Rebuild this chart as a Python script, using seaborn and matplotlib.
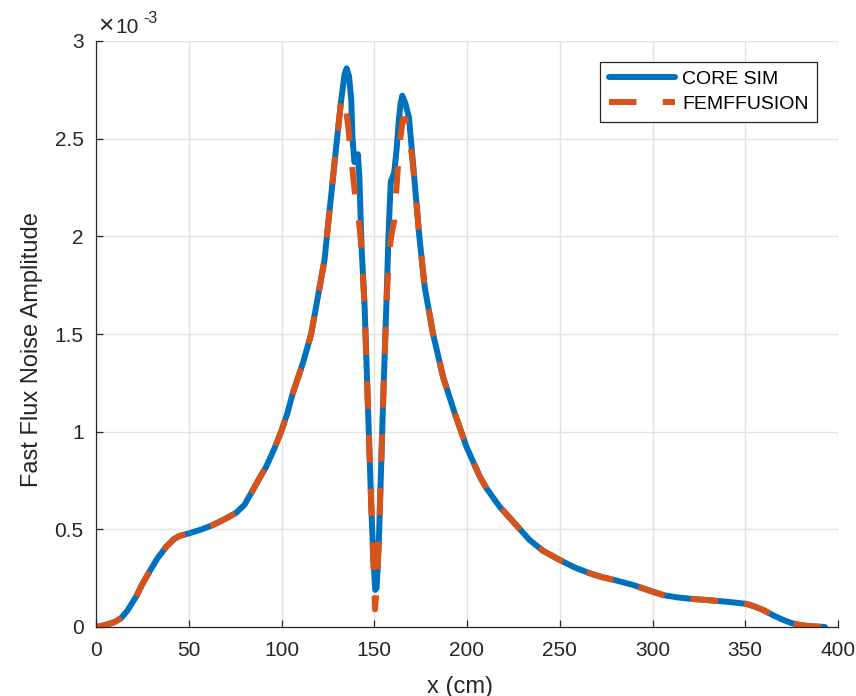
import numpy as np
import pandas as pd
import matplotlib
matplotlib.use("Agg")
import matplotlib.pyplot as plt
import seaborn as sns

# ---------------- data (values in units of 1e-3) ----------------
x_left = [0, 5, 10, 13.5, 17, 21.6, 25, 28.8, 33, 37.8, 42, 45, 50.4, 57, 63, 70,
          75.6, 80, 84.5, 88, 91.7, 96, 99.8, 103, 106.1, 111.5, 116, 119.6,
          123.2, 125, 127, 129.5, 132.2]
y_left = [0.0, 0.01, 0.025, 0.045, 0.085, 0.155, 0.22, 0.283, 0.35, 0.41, 0.45,
          0.466, 0.48, 0.50, 0.522, 0.555, 0.585, 0.625, 0.70, 0.76, 0.82, 0.91,
          1.0, 1.09, 1.197, 1.35, 1.5, 1.69, 1.88, 2.05, 2.23, 2.46, 2.70]

x_core_mid = [134.0, 135.1, 136.4, 137.6, 138.3, 139.3, 140.3, 141.2, 142.0, 142.8,
              143.3, 144.8, 146.6, 148.4, 149.5, 150.5, 151.3, 152.5, 154.7, 156.5,
              157.6, 158.3, 158.9, 159.8, 160.8, 162.0, 163.3, 164.2, 165.1, 166.8,
              168.7, 170.3, 172.3]
y_core_mid = [2.83, 2.86, 2.82, 2.70, 2.50, 2.38, 2.40, 2.42, 2.30, 2.05,
              1.92, 1.64, 1.13, 0.616, 0.36, 0.19, 0.20, 0.445, 1.13, 1.64,
              1.98, 2.15, 2.28, 2.30, 2.33, 2.44, 2.60, 2.68, 2.72, 2.68,
              2.61, 2.44, 2.22]

x_fem_mid = [133.3, 134.6, 136.0, 137.3, 138.5, 139.8, 141.2, 142.3, 143.2, 144.8,
             146.6, 148.4, 149.5, 150.4, 151.3, 152.5, 154.7, 156.5, 158.0, 159.5,
             160.8, 161.8, 162.8, 164.0, 165.5, 166.8, 168.2, 170.3, 172.3]
y_fem_mid = [2.72, 2.66, 2.56, 2.44, 2.32, 2.20, 2.12, 2.03, 1.92, 1.64,
             1.13, 0.616, 0.33, 0.09, 0.20, 0.445, 1.13, 1.64, 1.92, 2.02,
             2.08, 2.22, 2.36, 2.50, 2.60, 2.60, 2.52, 2.42, 2.22]

x_right = [174.3, 177.2, 181.7, 187.1, 193.4, 199.7, 206.9, 210.5, 217.6, 226.7, 233.8,
           241, 250, 258, 266.2, 273, 279.7, 289.6, 300, 306, 313, 320, 329.2,
           337, 343.5, 350.8, 355, 359.7, 365, 370.5, 375, 379.5, 385, 393]
y_right = [2.0, 1.74, 1.5, 1.28, 1.094, 0.923, 0.77, 0.71, 0.616, 0.52, 0.445,
           0.39, 0.343, 0.305, 0.275, 0.255, 0.24, 0.215, 0.181, 0.163, 0.152,
           0.145, 0.138, 0.132, 0.126, 0.118, 0.105, 0.087, 0.06, 0.036, 0.02,
           0.01, 0.004, 0.0]

series_names = ["CORE SIM", "FEMFFUSION"]
x_ticks = [0, 50, 100, 150, 200, 250, 300, 350, 400]
y_ticks = [0, 0.5, 1, 1.5, 2, 2.5, 3]
y_tick_labels = ["0", "0.5", "1", "1.5", "2", "2.5", "3"]

core_x = x_left + x_core_mid + x_right
core_y = y_left + y_core_mid + y_right
fem_x = x_left + x_fem_mid + x_right
fem_y = y_left + y_fem_mid + y_right

df_core = pd.DataFrame({"x": core_x, "y": core_y})
df_fem = pd.DataFrame({"x": fem_x, "y": fem_y})

# ---------------- style ----------------
sns.set_theme(style="whitegrid")
plt.rcParams["font.family"] = ["Liberation Sans", "DejaVu Sans"]
plt.rcParams["axes.unicode_minus"] = False

blue = "#0072BD"
orange = "#D95319"
dark = "#262626"

fig = plt.figure(figsize=(8.56, 6.96), dpi=100)
ax = fig.add_axes([96 / 856, 1 - 627 / 696, 742 / 856, 586 / 696])

lw = 4.3
sns.lineplot(data=df_core, x="x", y="y", ax=ax, color=blue, linewidth=lw,
             estimator=None, sort=False, label=series_names[0])
sns.lineplot(data=df_fem, x="x", y="y", ax=ax, color=orange, linewidth=lw,
             estimator=None, sort=False, label=series_names[1])
ax.lines[1].set_linestyle((0, (4.6, 4.4)))
ax.lines[1].set_dash_capstyle("butt")

ax.set_xlim(0, 400)
ax.set_ylim(0, 3)
ax.set_xticks(x_ticks)
ax.set_yticks(y_ticks)
ax.set_yticklabels(y_tick_labels)

ax.grid(True, color="#E3E3E3", linewidth=1.0)
ax.set_facecolor("white")
for s in ["top", "right"]:
    ax.spines[s].set_visible(False)
for s in ["left", "bottom"]:
    ax.spines[s].set_visible(True)
    ax.spines[s].set_color(dark)
    ax.spines[s].set_linewidth(0.9)

ax.tick_params(axis="both", direction="in", length=5, width=0.9, color=dark,
               labelcolor=dark, labelsize=15)
ax.tick_params(axis="x", pad=10, bottom=True)
ax.tick_params(axis="y", pad=9, left=True)

ax.set_xlabel("x (cm)", fontsize=17, color=dark)
ax.set_ylabel("Fast Flux Noise Amplitude", fontsize=17, color=dark)
ax.xaxis.set_label_coords(0.4906, -0.083)
ax.yaxis.set_label_coords(-0.071, 0.473)

ax.text(0.0027, 1.0137, "×", transform=ax.transAxes, ha="left", va="baseline",
        fontsize=19, color=dark)
ax.text(0.0256, 1.0137, "10", transform=ax.transAxes, ha="left", va="baseline",
        fontsize=15, color=dark)
ax.text(0.0633, 1.0307, "-3", transform=ax.transAxes, ha="left", va="baseline",
        fontsize=11.5, color=dark)

leg = ax.legend(loc="upper right", bbox_to_anchor=(0.972, 0.965), borderaxespad=0,
                fontsize=14, frameon=True, fancybox=False, handlelength=3.4,
                handletextpad=0.35, labelspacing=0.38, borderpad=0.45)
leg.get_frame().set_edgecolor(dark)
leg.get_frame().set_linewidth(0.9)
leg.get_frame().set_alpha(1)
for t in leg.get_texts():
    t.set_color("black")

fig.savefig("out.png", dpi=100, facecolor="white")
